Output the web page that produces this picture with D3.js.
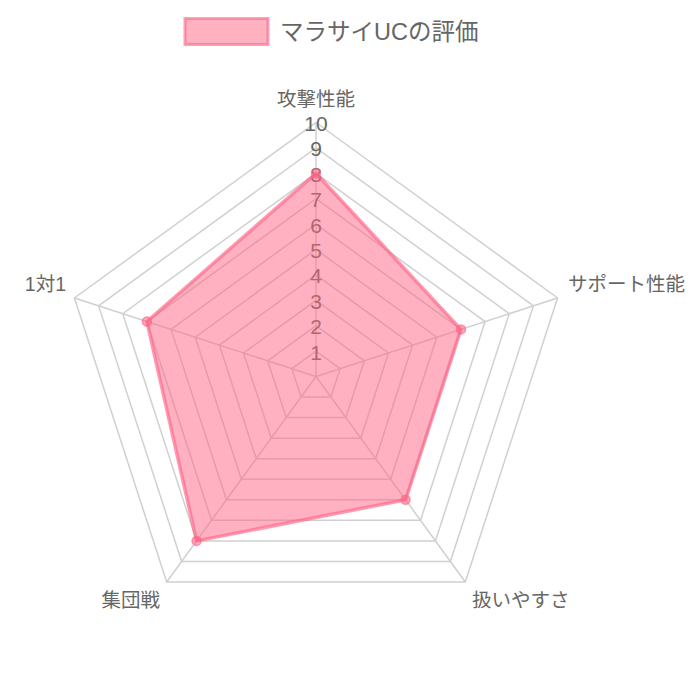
<!DOCTYPE html>
<html>
<head>
<meta charset="utf-8">
<script src="https://cdn.jsdelivr.net/npm/d3@7"></script>
<style>
  html, body { margin: 0; padding: 0; background: #fff; }
  svg { display: block; font-family: "Liberation Sans", Arial, "Noto Sans CJK JP", sans-serif; }
</style>
</head>
<body>
<svg width="688" height="688"></svg>
<script>
// data
const axes = ['攻撃性能', 'サポート性能', '扱いやすさ', '集団戦', '1対1'];
const values = [8, 6, 6, 8, 7];
const ticks = [1, 2, 3, 4, 5, 6, 7, 8, 9, 10];
const seriesName = 'マラサイUCの評価';

const svg = d3.select('svg');
const cx = 316, cy = 376.5, R = 254;

const r = d3.scaleLinear().domain([0, 10]).range([0, R]);
const ang = d3.scalePoint().domain(axes).range([0, 2 * Math.PI * (axes.length - 1) / axes.length]);

const pt = (a, v) => [cx + r(v) * Math.sin(ang(a)), cy - r(v) * Math.cos(ang(a))];

const g = svg.append('g');

// grid pentagons
ticks.forEach(t => {
    g.append('polygon')
        .attr('points', axes.map(a => pt(a, t).join(',')).join(' '))
        .attr('fill', 'none')
        .attr('stroke', '#d0d0d0')
        .attr('stroke-width', 1.5);
});

// spokes
axes.forEach(a => {
    const [x, y] = pt(a, 10);
    g.append('line')
        .attr('x1', cx).attr('y1', cy)
        .attr('x2', x).attr('y2', y)
        .attr('stroke', '#d0d0d0')
        .attr('stroke-width', 1.5);
});

// tick labels (drawn below the fill)
g.selectAll('text.tick').data(ticks)
    .enter().append('text')
    .attr('class', 'tick')
    .attr('x', cx)
    .attr('y', d => cy - r(d) + 1)
    .attr('text-anchor', 'middle')
    .attr('dominant-baseline', 'central')
    .attr('font-size', 21)
    .attr('fill', '#666')
    .text(d => d);

// data area
const line = d3.lineRadial()
    .angle((d, i) => ang(axes[i]))
    .radius(d => r(d))
    .curve(d3.curveLinearClosed);

g.append('path')
    .attr('transform', `translate(${cx},${cy})`)
    .attr('d', line(values))
    .attr('fill', 'rgba(255,99,132,0.5)')
    .attr('stroke', 'rgba(255,99,132,0.65)')
    .attr('stroke-width', 3.5)
    .attr('stroke-linejoin', 'round');

g.selectAll('circle').data(values)
    .enter().append('circle')
    .attr('cx', (d, i) => pt(axes[i], d)[0])
    .attr('cy', (d, i) => pt(axes[i], d)[1])
    .attr('r', 4.5)
    .attr('fill', 'rgba(255,99,132,0.55)')
    .attr('stroke', 'rgba(255,99,132,0.65)')
    .attr('stroke-width', 1.5);

// axis labels
const labelPos = [
    {x: 316, y: 99, anchor: 'middle'},
    {x: 568, y: 284, anchor: 'start'},
    {x: 472, y: 600, anchor: 'start'},
    {x: 160, y: 600, anchor: 'end'},
    {x: 66, y: 284, anchor: 'end'}
];
g.selectAll('text.lbl').data(axes)
    .enter().append('text')
    .attr('class', 'lbl')
    .attr('x', (d, i) => labelPos[i].x)
    .attr('y', (d, i) => labelPos[i].y)
    .attr('text-anchor', (d, i) => labelPos[i].anchor)
    .attr('dominant-baseline', 'central')
    .attr('font-size', 19.5)
    .attr('fill', '#666')
    .text(d => d);

// legend
const lg = svg.append('g');
lg.append('rect')
    .attr('x', 185).attr('y', 18.5)
    .attr('width', 83).attr('height', 26)
    .attr('fill', 'rgba(255,99,132,0.5)')
    .attr('stroke', 'rgba(255,99,132,0.6)')
    .attr('stroke-width', 3);
lg.append('text')
    .attr('x', 280).attr('y', 32)
    .attr('dominant-baseline', 'central')
    .attr('font-size', 23.5)
    .attr('fill', '#666')
    .text(seriesName);
</script>
</body>
</html>
